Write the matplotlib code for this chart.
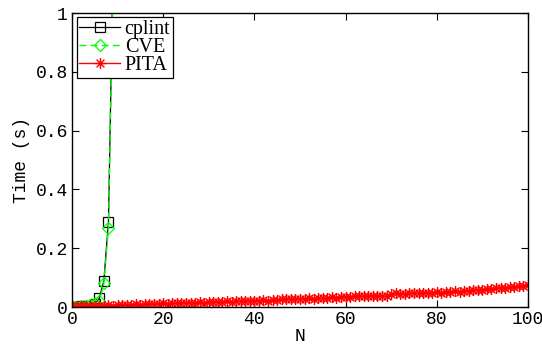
import matplotlib
matplotlib.use("Agg")
import matplotlib.pyplot as plt
from matplotlib.path import Path

# Data
cplint_x = [0, 1, 2, 3, 4, 5, 6, 7, 8, 9]
cplint_y = [0.001, 0.001, 0.002, 0.003, 0.005, 0.010, 0.030, 0.090, 0.290, 1.15]

cve_x = [0, 1, 2, 3, 4, 5, 6, 7, 8, 9]
cve_y = [0.003, 0.001, 0.004, 0.002, 0.008, 0.012, 0.020, 0.080, 0.270, 1.10]

pita_x = list(range(0, 101))
pita_y = [
    0.002, 0.003, 0.002, 0.004, 0.003, 0.005, 0.004, 0.005, 0.006, 0.005,
    0.007, 0.006, 0.008, 0.007, 0.009, 0.008, 0.010, 0.009, 0.011, 0.010,
    0.012, 0.011, 0.013, 0.012, 0.014, 0.013, 0.015, 0.014, 0.016, 0.015,
    0.017, 0.016, 0.018, 0.017, 0.019, 0.018, 0.020, 0.019, 0.021, 0.020,
    0.022, 0.021, 0.023, 0.022, 0.024, 0.025, 0.026, 0.027, 0.028, 0.027,
    0.028, 0.027, 0.029, 0.028, 0.030, 0.029, 0.031, 0.033, 0.032, 0.034,
    0.035, 0.034, 0.036, 0.037, 0.036, 0.038, 0.039, 0.038, 0.037, 0.036,
    0.044, 0.046, 0.045, 0.044, 0.046, 0.047, 0.046, 0.048, 0.049, 0.048,
    0.050, 0.049, 0.051, 0.052, 0.053, 0.052, 0.054, 0.055, 0.057, 0.058,
    0.059, 0.060, 0.062, 0.063, 0.064, 0.066, 0.067, 0.068, 0.070, 0.071,
    0.076,
]

xticks = [0, 20, 40, 60, 80, 100]
yticks = [0, 0.2, 0.4, 0.6, 0.8, 1]
ytick_labels = ["0", "0.2", "0.4", "0.6", "0.8", "1"]

mono = "Liberation Mono"
serif = "Liberation Serif"

# MATLAB-style asterisk marker (plus + cross)
d = 0.7071
ast_verts = [(-1, 0), (1, 0), (0, -1), (0, 1), (-d, -d), (d, d), (-d, d), (d, -d)]
ast_codes = [Path.MOVETO, Path.LINETO] * 4
asterisk = Path(ast_verts, ast_codes)

fig = plt.figure(figsize=(5.42, 3.46), dpi=100)
ax = fig.add_axes([0.1328, 0.1127, 0.8413, 0.8497])

ax.plot(cplint_x, cplint_y, color="black", linestyle="-", linewidth=0.9,
        marker="s", markersize=7, markerfacecolor="none",
        markeredgecolor="black", markeredgewidth=0.9, label="cplint")
ax.plot(cve_x, cve_y, color="#00ff00", linestyle=(0, (5, 3)), linewidth=1.0,
        marker="D", markersize=6, markerfacecolor="none",
        markeredgecolor="#00ff00", markeredgewidth=0.9, label="CVE")
ax.plot(pita_x, pita_y, color="red", linestyle="-", linewidth=1.0,
        marker=asterisk, markersize=8, markerfacecolor="none",
        markeredgecolor="red", markeredgewidth=1.0, label="PITA")

ax.set_xlim(0, 100)
ax.set_ylim(0, 1)
ax.set_xticks(xticks)
ax.set_xticklabels([str(t) for t in xticks])
ax.set_yticks(yticks)
ax.set_yticklabels(ytick_labels)

ax.tick_params(direction="in", top=True, right=True, length=5, width=0.8,
               labelsize=13, pad=3)
for lbl in ax.get_xticklabels() + ax.get_yticklabels():
    lbl.set_fontfamily(mono)
for s in ax.spines.values():
    s.set_linewidth(1.0)

ax.set_xlabel("N", fontfamily=mono, fontsize=13, labelpad=0)
ax.set_ylabel("Time (s)", fontfamily=mono, fontsize=13, labelpad=4)

leg = ax.legend(loc="upper left", bbox_to_anchor=(0.011, 0.985),
                prop={"family": serif, "size": 14.5}, frameon=True,
                fancybox=False, framealpha=1, edgecolor="black",
                borderpad=0.12, labelspacing=-0.05, handlelength=2.0,
                handletextpad=0.25, borderaxespad=0.0)
leg.get_frame().set_linewidth(0.9)

fig.savefig("out.png", dpi=100)
